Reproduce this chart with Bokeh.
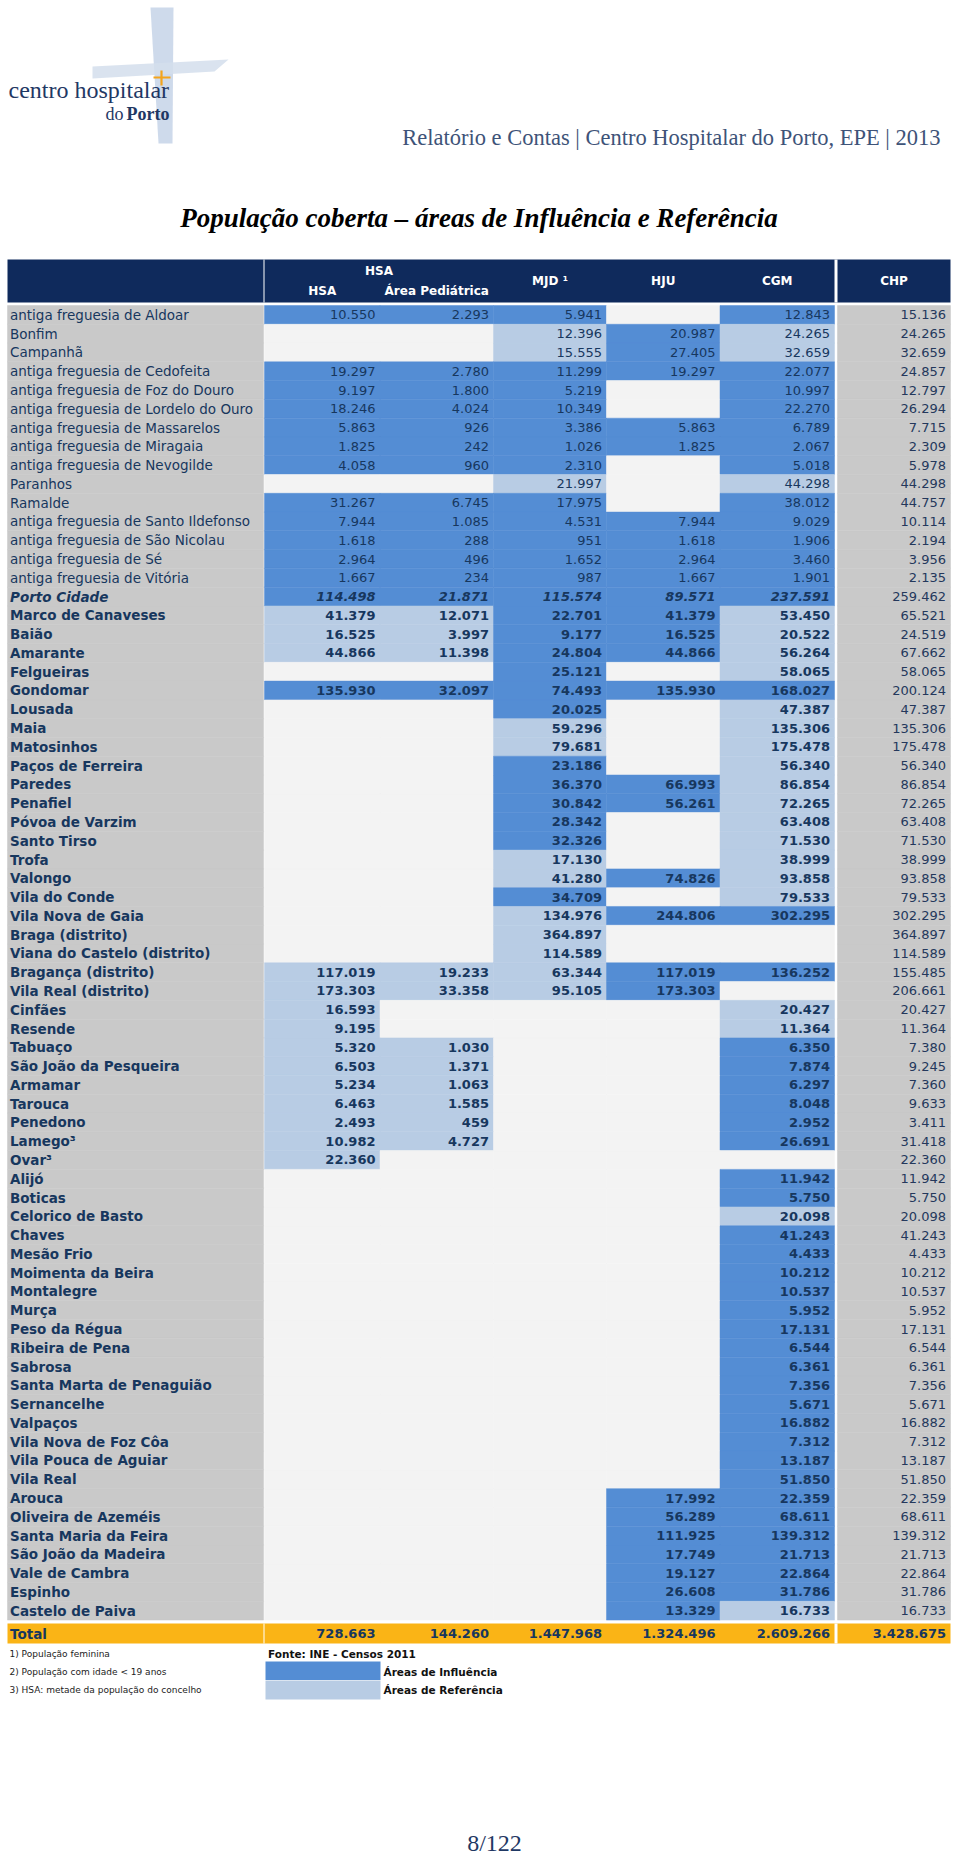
from bokeh.plotting import figure
from bokeh.models import ColumnDataSource, Range1d
from bokeh.core.properties import value
from bokeh.embed import file_html
from bokeh.resources import INLINE

N = None

# ---------------- data ----------------
labels = [
    "antiga freguesia de Aldoar", "Bonfim", "Campanhã", "antiga freguesia de Cedofeita",
    "antiga freguesia de Foz do Douro", "antiga freguesia de Lordelo do Ouro",
    "antiga freguesia de Massarelos", "antiga freguesia de Miragaia",
    "antiga freguesia de Nevogilde", "Paranhos", "Ramalde",
    "antiga freguesia de Santo Ildefonso", "antiga freguesia de São Nicolau",
    "antiga freguesia de Sé", "antiga freguesia de Vitória", "Porto Cidade",
    "Marco de Canaveses", "Baião", "Amarante", "Felgueiras", "Gondomar", "Lousada",
    "Maia", "Matosinhos", "Paços de Ferreira", "Paredes", "Penafiel", "Póvoa de Varzim",
    "Santo Tirso", "Trofa", "Valongo", "Vila do Conde", "Vila Nova de Gaia",
    "Braga (distrito)", "Viana do Castelo (distrito)", "Bragança (distrito)",
    "Vila Real (distrito)", "Cinfães", "Resende", "Tabuaço", "São João da Pesqueira",
    "Armamar", "Tarouca", "Penedono", "Lamego³", "Ovar³", "Alijó", "Boticas",
    "Celorico de Basto", "Chaves", "Mesão Frio", "Moimenta da Beira", "Montalegre",
    "Murça", "Peso da Régua", "Ribeira de Pena", "Sabrosa", "Santa Marta de Penaguião",
    "Sernancelhe", "Valpaços", "Vila Nova de Foz Côa", "Vila Pouca de Aguiar",
    "Vila Real", "Arouca", "Oliveira de Azeméis", "Santa Maria da Feira",
    "São João da Madeira", "Vale de Cambra", "Espinho", "Castelo de Paiva",
]

hsa = ([10550, N, N, 19297, 9197, 18246, 5863, 1825, 4058, N, 31267, 7944, 1618, 2964, 1667, 114498,
        41379, 16525, 44866, N, 135930] + [N] * 14 +
       [117019, 173303, 16593, 9195, 5320, 6503, 5234, 6463, 2493, 10982, 22360] + [N] * 24)
ped = ([2293, N, N, 2780, 1800, 4024, 926, 242, 960, N, 6745, 1085, 288, 496, 234, 21871,
        12071, 3997, 11398, N, 32097] + [N] * 14 +
       [19233, 33358, N, N, 1030, 1371, 1063, 1585, 459, 4727, N] + [N] * 24)
mjd = ([5941, 12396, 15555, 11299, 5219, 10349, 3386, 1026, 2310, 21997, 17975, 4531, 951, 1652, 987, 115574,
        22701, 9177, 24804, 25121, 74493, 20025, 59296, 79681, 23186, 36370, 30842, 28342, 32326, 17130,
        41280, 34709, 134976, 364897, 114589, 63344, 95105] + [N] * 33)
hju = ([N, 20987, 27405, 19297, N, N, 5863, 1825, N, N, N, 7944, 1618, 2964, 1667, 89571,
        41379, 16525, 44866, N, 135930, N, N, N, N, 66993, 56261, N, N, N, 74826, N, 244806, N, N,
        117019, 173303] + [N] * 26 +
       [17992, 56289, 111925, 17749, 19127, 26608, 13329])
cgm = ([12843, 24265, 32659, 22077, 10997, 22270, 6789, 2067, 5018, 44298, 38012, 9029, 1906, 3460, 1901, 237591,
        53450, 20522, 56264, 58065, 168027, 47387, 135306, 175478, 56340, 86854, 72265, 63408, 71530, 38999,
        93858, 79533, 302295, N, N, 136252, N,
        20427, 11364, 6350, 7874, 6297, 8048, 2952, 26691, N,
        11942, 5750, 20098, 41243, 4433, 10212, 10537, 5952, 17131, 6544, 6361, 7356, 5671, 16882, 7312,
        13187, 51850,
        22359, 68611, 139312, 21713, 22864, 31786, 16733])
chp = [15136, 24265, 32659, 24857, 12797, 26294, 7715, 2309, 5978, 44298, 44757, 10114, 2194, 3956, 2135, 259462,
       65521, 24519, 67662, 58065, 200124, 47387, 135306, 175478, 56340, 86854, 72265, 63408, 71530, 38999,
       93858, 79533, 302295, 364897, 114589, 155485, 206661,
       20427, 11364, 7380, 9245, 7360, 9633, 3411, 31418, 22360,
       11942, 5750, 20098, 41243, 4433, 10212, 10537, 5952, 17131, 6544, 6361, 7356, 5671, 16882, 7312,
       13187, 51850,
       22359, 68611, 139312, 21713, 22864, 31786, 16733]

# area type per cell: I = Área de Influência, R = Área de Referência, . = none
hsa_area = "I..IIIIII.IIIIII" + "RRR.I" + "." * 14 + "R" * 11 + "." * 24
ped_area = "I..IIIIII.IIIIII" + "RRR.I" + "." * 14 + "RR" + ".." + "R" * 6 + "." + "." * 24
mjd_area = "IRRIIIIIIRIIIIII" + "IIIIIIRRIIIIIRRIRRRRR" + "." * 33
hju_area = ".III..II...IIIII" + "III.I....II...I.I..II" + "." * 26 + "I" * 7
cgm_area = ("IRRIIIIIIRIIIIII" + "RRRRIRRRRRRRRRRRI" + ".." + "I" + "." + "RRIIIIII" + "." +
            "IIR" + "I" * 14 + "IIIIIIR")

totals = [728663, 144260, 1447968, 1324496, 2609266, 3428675]

col_names = ["HSA", "Área Pediátrica", "MJD ¹", "HJU", "CGM", "CHP"]
notes = ["1) População feminina", "2) População com idade < 19 anos",
         "3) HSA: metade da população do concelho"]
legend_items = ["Áreas de Influência", "Áreas de Referência"]

# ---------------- styling ----------------
BLUE, LIGHT, EMPTY, GRAY = "#548dd4", "#b8cce4", "#f3f3f3", "#c9c9c9"
NAVY, GOLD, TXT = "#0f2a5c", "#fab416", "#17375e"
SANS = "DejaVu Sans"
SERIF = "Liberation Serif"
area_color = {"I": BLUE, "R": LIGHT, ".": EMPTY}

ROW0, PITCH = 305.0, 18.78
LAB_L, LAB_R = 7, 263
data_edges = [264, 379.5, 493, 606, 719.5, 834]
CHP_L, CHP_R = 837, 950
PAD = 4.5

W, H = 960, 1858
p = figure(width=W, height=H, x_range=Range1d(0, W), y_range=Range1d(H, 0),
           output_backend="svg", toolbar_location=None, x_axis_type=None, y_axis_type=None,
           min_border=0, outline_line_color=None, background_fill_color="white",
           border_fill_color="white")

n = len(labels)
tops = [ROW0 + i * PITCH for i in range(n)]
mids = [t + PITCH / 2 for t in tops]

# ---------------- cells ----------------
cells = dict(l=[], r=[], t=[], b=[], c=[])
def cell(l, r, t, b, c):
    cells["l"].append(l); cells["r"].append(r); cells["t"].append(t); cells["b"].append(b); cells["c"].append(c)

data_cols = [(hsa, hsa_area), (ped, ped_area), (mjd, mjd_area), (hju, hju_area), (cgm, cgm_area)]
for i in range(n):
    t, b = tops[i], tops[i] + PITCH
    cell(LAB_L, LAB_R, t, b, GRAY)
    for j, (vals, codes) in enumerate(data_cols):
        cell(data_edges[j], data_edges[j + 1], t, b, area_color[codes[i]])
    cell(CHP_L, CHP_R, t, b, GRAY)

p.quad(left="l", right="r", top="t", bottom="b", fill_color="c", line_color="c", line_width=0.5,
       source=ColumnDataSource(cells))

# header band
p.quad(left=[LAB_L], right=[CHP_R], top=[259], bottom=[302], fill_color=NAVY, line_color=None)
p.quad(left=[LAB_R, 834], right=[264, 837], top=[259, 259], bottom=[302, 302],
       fill_color="white", line_color=None)
# total band
p.quad(left=[LAB_L], right=[CHP_R], top=[1623], bottom=[1643], fill_color=GOLD, line_color=None)
p.quad(left=[LAB_R, 834], right=[264, 837], top=[1623, 1623], bottom=[1643, 1643],
       fill_color="white", line_color=None)

# legend swatches
p.quad(left=[265, 265], right=[380, 380], top=[1661, 1680], bottom=[1679.5, 1699],
       fill_color=[BLUE, LIGHT], line_color=None)

# ---------------- texts ----------------
texts = {}
def add(key, x, y, s):
    d = texts.setdefault(key, dict(x=[], y=[], s=[]))
    d["x"].append(x); d["y"].append(y); d["s"].append(s)

def fmt(v):
    return f"{v:,}".replace(",", ".")

for i in range(n):
    y = mids[i]
    if i < 15:
        lst, nst = "normal", "normal"
    elif i == 15:
        lst, nst = "bold italic", "bold italic"
    else:
        lst, nst = "bold", "bold"
    add((SANS, lst, "left", "13.5px", TXT), 9.5, y, labels[i])
    for j, (vals, codes) in enumerate(data_cols):
        if vals[i] is not None:
            add((SANS, nst, "right", "13px", TXT), data_edges[j + 1] - PAD, y, fmt(vals[i]))
    add((SANS, "normal", "right", "13px", "#24385c"), CHP_R - PAD, y, fmt(chp[i]))

# total row
add((SANS, "bold", "left", "13.5px", TXT), 9.5, 1633, "Total")
rights = data_edges[1:] + [CHP_R]
for j, v in enumerate(totals):
    add((SANS, "bold", "right", "13px", TXT), rights[j] - PAD, 1633, fmt(v))

# header labels
hw = (SANS, "bold", "center", "12px", "white")
add(hw, (data_edges[0] + data_edges[2]) / 2, 270, "HSA")
add(hw, (data_edges[0] + data_edges[1]) / 2, 290, col_names[0])
add(hw, (data_edges[1] + data_edges[2]) / 2, 290, col_names[1])
add(hw, (data_edges[2] + data_edges[3]) / 2, 280, col_names[2])
add(hw, (data_edges[3] + data_edges[4]) / 2, 280, col_names[3])
add(hw, (data_edges[4] + data_edges[5]) / 2, 280, col_names[4])
add(hw, (CHP_L + CHP_R) / 2, 280, col_names[5])

# footnotes
for k, s in enumerate(notes):
    add((SANS, "normal", "left", "9px", "#222222"), 9, 1653 + k * 18.2, s)
add((SANS, "bold", "left", "10.5px", "#111111"), 267.5, 1653, "Fonte: INE - Censos 2011")
add((SANS, "bold", "left", "10.5px", "#111111"), 383, 1671, legend_items[0])
add((SANS, "bold", "left", "10.5px", "#111111"), 383, 1689.5, legend_items[1])

# page texts
add((SERIF, "normal", "right", "22.5px", "#3e5378"), 940, 137,
    "Relatório e Contas | Centro Hospitalar do Porto, EPE | 2013")
add((SERIF, "bold italic", "center", "27px", "#000000"), 478.5, 217,
    "População coberta – áreas de Influência e Referência")
add((SERIF, "normal", "center", "24px", "#1f3864"), 494, 1842, "8/122")

# logo
p.patch(x=[150, 173, 172, 158], y=[7, 7, 143, 143], fill_color="#c6d4e8", fill_alpha=0.85, line_color=None)
p.patch(x=[92, 228, 214, 92], y=[66, 59, 71, 78], fill_color="#d3deec", fill_alpha=0.85, line_color=None)
p.segment(x0=[153, 161], y0=[77, 70], x1=[170, 161], y1=[77, 85], line_color="#f4a41c", line_width=2.2)
add((SERIF, "normal", "left", "24px", "#1f3864"), 8, 89, "centro hospitalar")
add((SERIF, "normal", "right", "18px", "#1f3864"), 123, 113, "do")
add((SERIF, "bold", "right", "18px", "#1f3864"), 169, 113, "Porto")

for (font, style, align, size, color), d in texts.items():
    p.text(x="x", y="y", text="s", source=ColumnDataSource(d), text_font=value(font),
           text_font_style=style, text_align=align, text_baseline="middle",
           text_font_size=size, text_color=color)

open("out.html", "w").write(file_html(p, INLINE))
